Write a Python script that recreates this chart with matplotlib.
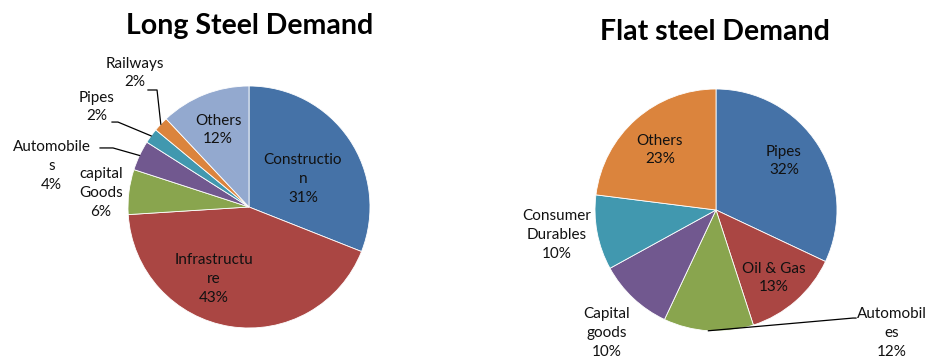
"""
steel_demand_pies.py -- long vs flat steel demand split by end-use, two pies side by side.

Run:
    python plot.py   -> out.png (929x360)
"""
import numpy as np
import matplotlib
matplotlib.use("Agg")
import matplotlib.pyplot as plt

W, H, DPI = 929, 360, 100
FONT = ["Lato", "DejaVu Sans"]

BLUE, RED, GREEN, PURPLE = "#4572A7", "#AA4643", "#89A54E", "#71588F"
TEAL, ORANGE, LIGHT = "#4198AF", "#DB843D", "#93A9CF"

# ---------------------------------------------------------------- data
long_labels = ["Constructio\nn", "Infrastructu\nre", "capital\nGoods", "Automobile\ns",
               "Pipes", "Railways", "Others"]
long_values = [31, 43, 6, 4, 2, 2, 12]
long_colors = [BLUE, RED, GREEN, PURPLE, TEAL, ORANGE, LIGHT]

flat_labels = ["Pipes", "Oil & Gas", "Automobil\nes", "Capital\ngoods",
               "Consumer\nDurables", "Others"]
flat_values = [32, 13, 12, 10, 10, 23]
flat_colors = [BLUE, RED, GREEN, PURPLE, TEAL, ORANGE]

# label placement (units of pie radius, relative to centre); leader = knee points or None
long_pos = [(0.446, 0.231), (-0.289, -0.595), (-1.225, 0.116), (-1.63, 0.339),
            (-1.256, 0.826), (-0.942, 1.107), (-0.256, 0.636)]
long_lead = [None, None, None, [(-1.231, 0.488), (-1.124, 0.488)],
             [(-1.132, 0.702), (-1.083, 0.702)], [(-0.835, 0.967), (-0.760, 0.967)], None]

flat_pos = [(0.562, 0.405), (0.479, -0.562), (1.455, -1.017), (-0.901, -1.017),
            (-1.314, -0.207), (-0.463, 0.496)]
flat_lead = [None, None, [(1.157, -0.893), (1.132, -0.893)], None, None, None]


def draw_pie(fig, cx, cy, R, labels, values, colors, pos, lead):
    """Pie centred at pixel (cx, cy from top), radius R px; clockwise from 12 o'clock."""
    ax = fig.add_axes([(cx - R) / W, (H - cy - R) / H, 2 * R / W, 2 * R / H])
    ax.pie(values, colors=colors, startangle=90, counterclock=False, radius=1,
           wedgeprops=dict(edgecolor="white", linewidth=0.6))
    ax.set_xlim(-1, 1)
    ax.set_ylim(-1, 1)
    ax.set_aspect("equal")
    ax.axis("off")

    total = float(sum(values))
    cum = 0.0
    for lab, v, (x, y), knees in zip(labels, values, pos, lead):
        mid = np.deg2rad(90 - (cum + v / 2) / total * 360)
        cum += v
        ax.text(x, y, f"{lab}\n{v / total * 100:.0f}%", ha="center", va="center",
                fontsize=11, family=FONT, color="#111", linespacing=1.42)
        if knees:
            xs = [k[0] for k in knees] + [np.cos(mid)]
            ys = [k[1] for k in knees] + [np.sin(mid)]
            ax.plot(xs, ys, color="black", lw=0.9, clip_on=False)
    return ax


def main():
    fig = plt.figure(figsize=(W / DPI, H / DPI), dpi=DPI)
    draw_pie(fig, 249, 207, 121, long_labels, long_values, long_colors, long_pos, long_lead)
    draw_pie(fig, 716, 210, 121, flat_labels, flat_values, flat_colors, flat_pos, flat_lead)

    fig.text(250 / W, 1 - 26 / H, "Long Steel Demand", ha="center", va="center",
             fontsize=20.5, fontweight="bold", family=FONT)
    fig.text(715 / W, 1 - 32 / H, "Flat steel Demand", ha="center", va="center",
             fontsize=20.5, fontweight="bold", family=FONT)

    fig.savefig("out.png", dpi=DPI)


if __name__ == "__main__":
    main()
